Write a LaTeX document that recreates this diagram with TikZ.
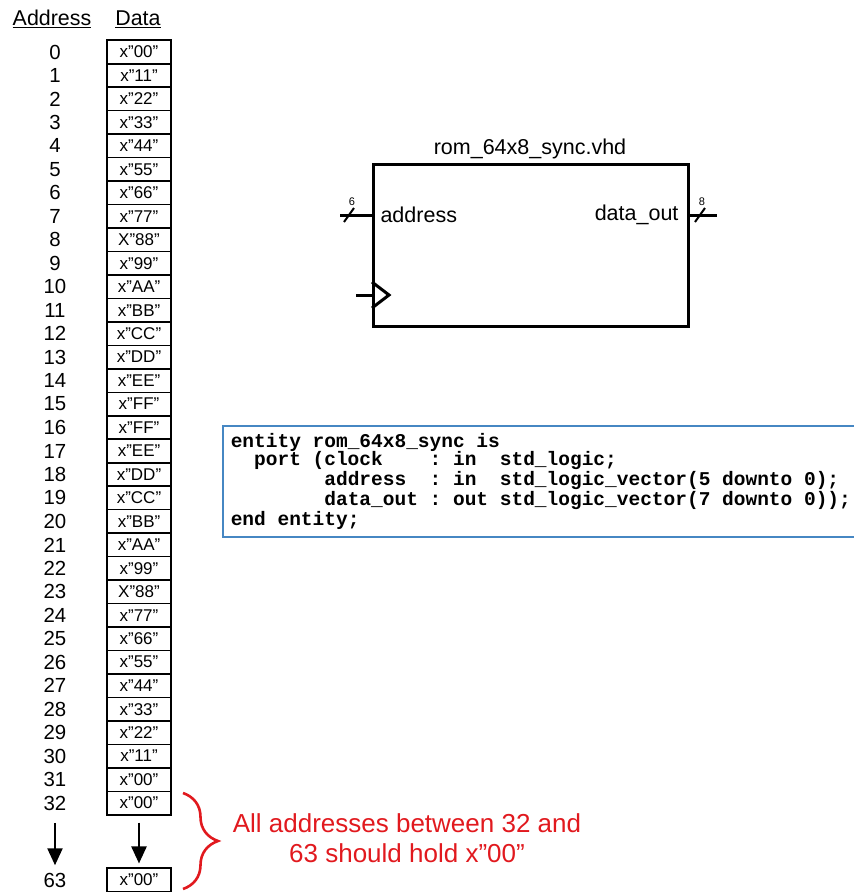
\documentclass[tikz,border=0pt]{standalone}
\usepackage{fontspec}
\setmainfont{Liberation Sans}
\newfontfamily\codefont{Liberation Mono}
\usetikzlibrary{arrows.meta,decorations.pathreplacing,calc}

\definecolor{notered}{RGB}{225,25,30}
\definecolor{codeblue}{RGB}{70,135,195}

\begin{document}
\begin{tikzpicture}[x=1pt, y=-1pt, >={Triangle[length=17pt,width=15pt]},
  cell/.style={draw, line width=1.6pt, minimum width=64pt, minimum height=23.5pt, inner sep=0pt, font=\fontsize{17}{17}\selectfont},
  num/.style={font=\fontsize{20.4}{20.4}\selectfont},
  lbl/.style={font=\fontsize{21.5}{21.5}\selectfont},
  bus/.style={line width=3pt},
  buswidth/.style={font=\fontsize{11}{11}\selectfont, inner sep=1pt}]
  \useasboundingbox (0,0) rectangle (854,892);
  % Memory contents
  \node[font=\fontsize{21.4}{21.4}\selectfont] (haddr) at (52,19) {\underline{Address}};
  \node[font=\fontsize{21.4}{21.4}\selectfont] (hdata) at (138,19) {\underline{Data}};
  \foreach \v [count=\i from 0] in {x”00”,x”11”,x”22”,x”33”,x”44”,x”55”,x”66”,x”77”,X”88”,x”99”,x”AA”,x”BB”,x”CC”,x”DD”,x”EE”,x”FF”,
      x”FF”,x”EE”,x”DD”,x”CC”,x”BB”,x”AA”,x”99”,X”88”,x”77”,x”66”,x”55”,x”44”,x”33”,x”22”,x”11”,x”00”,x”00”} {
    \node[num] (a\i) at (55,52+23.47*\i) {\i};
    \node[cell] (d\i) at (139,52+23.47*\i) {\v};
  }
  \node[num] (a63) at (55,880) {63};
  \node[cell] (d63) at (139,880) {x”00”};
  \draw[->, line width=2.4pt, shorten <=9pt, shorten >=4pt] (a32) -- (a63);
  \draw[->, line width=2.4pt, shorten <=7pt, shorten >=4pt] (d32) -- (d63);
  % Brace and note
  \coordinate (bt) at (183,793);
  \coordinate (bb) at (183,889);
  \draw[notered, line width=2.6pt, decorate, decoration={brace, amplitude=35pt}] (bt) -- (bb);
  \node[notered, align=center, font=\fontsize{26}{30}\selectfont] (note) at (407,838)
    {All addresses between 32 and\\63 should hold x”00”};
  % ROM block
  \node[draw, line width=3pt, minimum width=315pt, minimum height=162pt, anchor=north west] (rom) at (372,163) {};
  \node[lbl] (title) at (530,149) {rom\_64x8\_sync.vhd};
  \node[lbl, anchor=west] (addr) at (377,215) {address};
  \node[lbl, anchor=east] (dout) at (682,215) {data\_out};
  \coordinate (ain) at (340,215);
  \coordinate (dbus) at (717,215);
  \draw[bus] (ain) -- (ain -| rom.west);
  \draw[line width=2pt] ($(ain)+(4,7)$) -- ($(ain)+(14,-7)$);
  \node[buswidth] (w6) at (352,202) {6};
  \draw[bus] (dbus -| rom.east) -- (dbus);
  \draw[line width=2pt] (695,222) -- (705,208);
  \node[buswidth] (w8) at (702,202) {8};
  \coordinate (clk) at (356,295);
  \draw[bus] (clk) -- (clk -| rom.west);
  \draw[bus, line join=miter] (372,282) -- (389,295) -- (372,308);
  % Entity declaration
  \node[draw=codeblue, line width=1.5pt, anchor=north west, text width=650pt, minimum height=110pt,
        inner sep=8pt, align=left, font=\codefont\bfseries\fontsize{19.5}{19.8}\selectfont] (entity) at (222,425)
    {\spaceskip=0.6em\xspaceskip=0.6em\relax
     \vspace*{-2pt}entity rom\_64x8\_sync is\\
     \ \ port (clock\ \ \ \ : in\ \ std\_logic;\\
     \ \ \ \ \ \ \ \ address\ \ : in\ \ std\_logic\_vector(5 downto 0);\\
     \ \ \ \ \ \ \ \ data\_out : out std\_logic\_vector(7 downto 0));\\
     end entity;};
\end{tikzpicture}
\end{document}
